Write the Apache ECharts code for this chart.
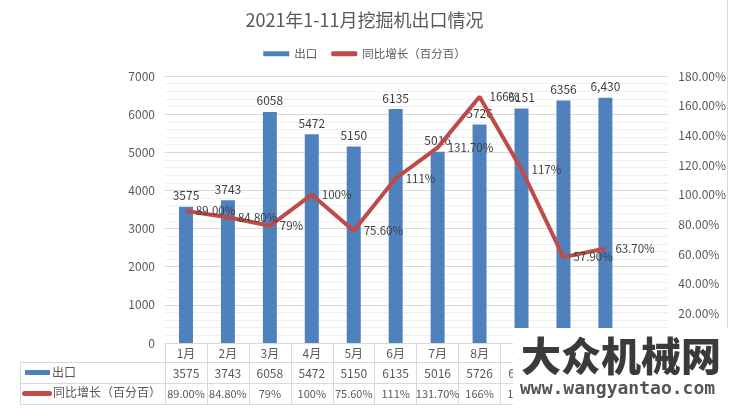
<!DOCTYPE html>
<html>
<head>
<meta charset="utf-8">
<script src="https://cdn.jsdelivr.net/npm/echarts@6/dist/echarts.min.js"></script>
<style>
  html, body { margin: 0; padding: 0; background: #fff; }
  #chart { width: 729px; height: 409px; }
</style>
</head>
<body>
<div id="chart"></div>
<script>
  // 月份（12月无数据）
  var months = ['1月', '2月', '3月', '4月', '5月', '6月', '7月', '8月', '9月', '10月', '11月', '12月']
  // 出口（台）
  var exportValues = [3575, 3743, 6058, 5472, 5150, 6135, 5016, 5726, 6151, 6356, 6430, null]
  var exportText = ['3575', '3743', '6058', '5472', '5150', '6135', '5016', '5726', '6151', '6356', '6,430', '']
  // 同比增长（百分数）
  var growthValues = [89, 84.8, 79, 100, 75.6, 111, 131.7, 166, 117, 57.9, 63.7, null]
  var growthText = ['89.00%', '84.80%', '79%', '100%', '75.60%', '111%', '131.70%', '166%', '117%', '57.90%', '63.70%', '']

  var fontCn = '"Noto Sans CJK SC", sans-serif'
  var textColor = '#595959'
  var lineColor = '#d9d9d9'

  var myChart = echarts.init(document.getElementById('chart'))
  myChart.setOption({
    backgroundColor: '#fff',
    textStyle: { fontFamily: fontCn },
    title: {
      text: '2021年1-11月挖掘机出口情况',
      left: 'center',
      top: 6,
      textStyle: { color: textColor, fontSize: 18, fontWeight: 'normal', fontFamily: fontCn }
    },
    legend: {
      top: 43,
      left: 'center',
      itemWidth: 26,
      itemHeight: 5,
      itemGap: 14,
      textStyle: { color: textColor, fontSize: 11.5 },
      data: [
        { name: '出口', icon: 'rect' },
        { name: '同比增长（百分百）', icon: 'roundRect' }
      ]
    },
    grid: { left: 165, right: 59, top: 76, bottom: 66, containLabel: false },
    xAxis: {
      type: 'category',
      data: months,
      axisLine: { lineStyle: { color: lineColor } },
      axisTick: { show: true, interval: 0, length: 61, lineStyle: { color: lineColor } },
      axisLabel: {
        interval: 0,
        margin: 0,
        formatter: function (value, index) {
          return '{m|' + value + '}\n{a|' + (exportText[index] || ' ') + '}\n{b|' + (growthText[index] || ' ') + '}'
        },
        rich: {
          m: { color: textColor, fontSize: 12, lineHeight: 20.5 },
          a: { color: textColor, fontSize: 12, lineHeight: 20.5 },
          b: { color: textColor, fontSize: 11, lineHeight: 20.5 }
        }
      }
    },
    yAxis: [
      {
        type: 'value',
        min: 0,
        max: 7000,
        interval: 1000,
        axisLine: { show: false },
        axisTick: { show: false },
        axisLabel: { color: textColor, fontSize: 12, margin: 10, formatter: function (v) { return String(v) } },
        splitLine: { lineStyle: { color: lineColor } },
        minorTick: { show: false, splitNumber: 5 },
        minorSplitLine: { show: true, lineStyle: { color: '#efefef' } }
      },
      {
        type: 'value',
        min: 0,
        max: 180,
        interval: 20,
        axisLine: { show: false },
        axisTick: { show: false },
        splitLine: { show: false },
        axisLabel: {
          color: textColor,
          fontSize: 12,
          margin: 10,
          formatter: function (v) { return v.toFixed(2) + '%' }
        }
      }
    ],
    series: [
      {
        name: '出口',
        type: 'bar',
        data: exportValues,
        barWidth: 14,
        itemStyle: { color: '#4f81bd' },
        label: {
          show: true,
          position: 'top',
          distance: 5,
          color: '#404040',
          fontSize: 12,
          formatter: function (p) { return exportText[p.dataIndex] }
        }
      },
      {
        name: '同比增长（百分百）',
        type: 'line',
        yAxisIndex: 1,
        data: growthValues,
        symbol: 'circle',
        symbolSize: 0,
        showAllSymbol: true,
        lineStyle: { color: '#be4b48', width: 4 },
        itemStyle: { color: '#be4b48' },
        label: {
          show: true,
          position: 'right',
          distance: 10,
          color: '#404040',
          fontSize: 11.5,
          formatter: function (p) { return growthText[p.dataIndex] }
        }
      }
    ],
    graphic: [
      // 数据表格线
      { type: 'line', z: 50, shape: { x1: 20, y1: 362.5, x2: 670, y2: 362.5 }, style: { stroke: lineColor, lineWidth: 1 } },
      { type: 'line', z: 50, shape: { x1: 20, y1: 383.5, x2: 670, y2: 383.5 }, style: { stroke: lineColor, lineWidth: 1 } },
      { type: 'line', z: 50, shape: { x1: 20, y1: 404.5, x2: 670, y2: 404.5 }, style: { stroke: lineColor, lineWidth: 1 } },
      { type: 'line', z: 50, shape: { x1: 20.5, y1: 362, x2: 20.5, y2: 405 }, style: { stroke: lineColor, lineWidth: 1 } },
      { type: 'rect', z: 50, shape: { x: 25, y: 370, width: 25, height: 5 }, style: { fill: '#4f81bd' } },
      { type: 'text', z: 50, left: 52, top: 366, style: { text: '出口', fill: textColor, font: '12px "Noto Sans CJK SC"' } },
      { type: 'rect', z: 50, shape: { x: 22, y: 391, width: 30, height: 5, r: 2.5 }, style: { fill: '#be4b48' } },
      { type: 'text', z: 50, left: 53, top: 386, style: { text: '同比增长（百分百）', fill: textColor, font: '12px "Noto Sans CJK SC"' } },
      { type: 'line', z: 50, shape: { x1: 727.5, y1: 0, x2: 727.5, y2: 328 }, style: { stroke: lineColor, lineWidth: 1 } },
      // 水印
      { type: 'rect', z: 100, shape: { x: 513, y: 328, width: 216, height: 81 }, style: { fill: '#fff' } },
      { type: 'text', z: 101, left: 521, top: 336, style: { text: '大众机械网', fill: '#3a3a3a', font: '900 40px "Noto Sans CJK SC"' } },
      { type: 'text', z: 101, left: 520, top: 380, style: { text: 'www.wangyantao.com', fill: '#555', font: 'bold 18px "DejaVu Sans Mono"' } }
    ]
  })
</script>
</body>
</html>
